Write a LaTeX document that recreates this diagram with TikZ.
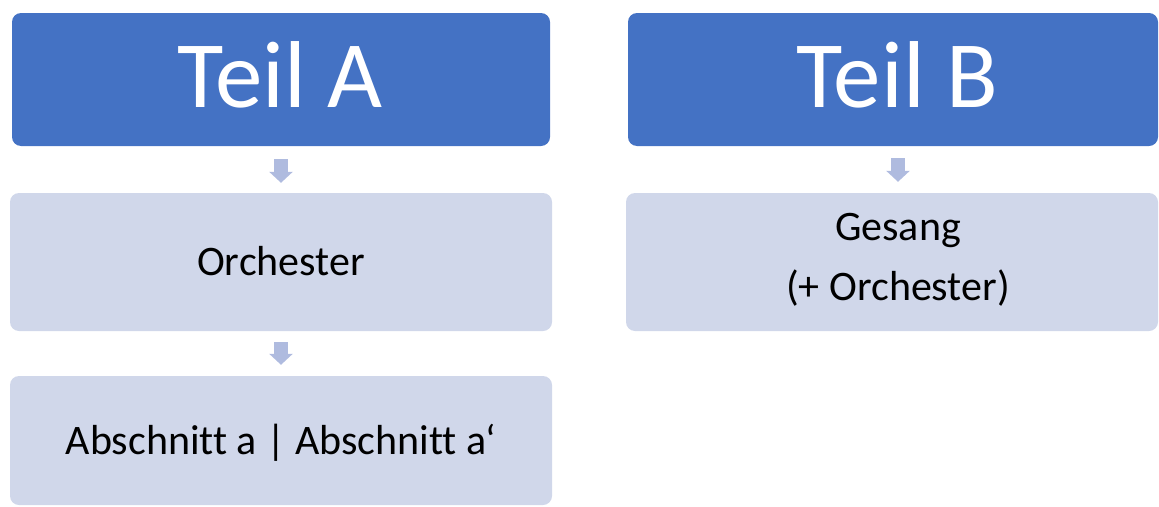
\documentclass[tikz,border=0pt]{standalone}
\usepackage{fontspec}
\setmainfont{Carlito}[Ligatures=NoCommon]
\usetikzlibrary{arrows.meta}
\definecolor{headblue}{HTML}{4472C4}
\definecolor{lightbox}{HTML}{D0D7EA}
\definecolor{arrowblue}{HTML}{AFBBDF}
\tikzset{
  head/.style={fill=headblue, rounded corners=9pt, inner sep=0pt},
  sub/.style={fill=lightbox, rounded corners=9pt, inner sep=0pt},
  headtext/.style={inner sep=0pt, text=white, font=\fontsize{95}{100}\selectfont},
  subtext/.style={inner sep=0pt, text=black, font=\fontsize{42}{60}\selectfont, align=center},
  fatarrow/.style={draw=arrowblue, line width=14pt,
    -{Triangle[length=11pt,width=23pt]}}
}
\begin{document}
\begin{tikzpicture}[x=1pt,y=-1pt]
\useasboundingbox (0,0) rectangle (1159,506);
\node[head, minimum width=538pt, minimum height=133pt] (teilA) at (281,79.5) {};
\node[head, minimum width=530pt, minimum height=133pt] (teilB) at (893,79.5) {};
\node[sub, minimum width=542pt, minimum height=138pt] (orch) at (281,262) {};
\node[sub, minimum width=542pt, minimum height=129pt] (absch) at (281,440.5) {};
\node[sub, minimum width=532pt, minimum height=138pt] (gesang) at (892,262) {};
\node[headtext] (tA) at ([xshift=-1pt,yshift=5pt]teilA.center) {Teil A};
\node[headtext] (tB) at ([xshift=4pt,yshift=5pt]teilB.center) {Teil B};
\node[subtext] (tO) at ([yshift=1pt]orch.center) {Orchester};
\node[subtext] (tAb) at ([yshift=-2pt]absch.center) {Abschnitt a | Abschnitt a‘};
\node[subtext] (tG) at ([xshift=6pt,yshift=2pt]gesang.center) {Gesang\\(+ Orchester)};
\draw[fatarrow] ([yshift=-13pt]teilA.south) -- ([yshift=10pt]orch.north);
\draw[fatarrow] ([yshift=-11pt]orch.south) -- ([yshift=11pt]absch.north);
\draw[fatarrow] ([xshift=5pt,yshift=-12pt]teilB.south) -- ([xshift=6pt,yshift=11pt]gesang.north);
\end{tikzpicture}
\end{document}
